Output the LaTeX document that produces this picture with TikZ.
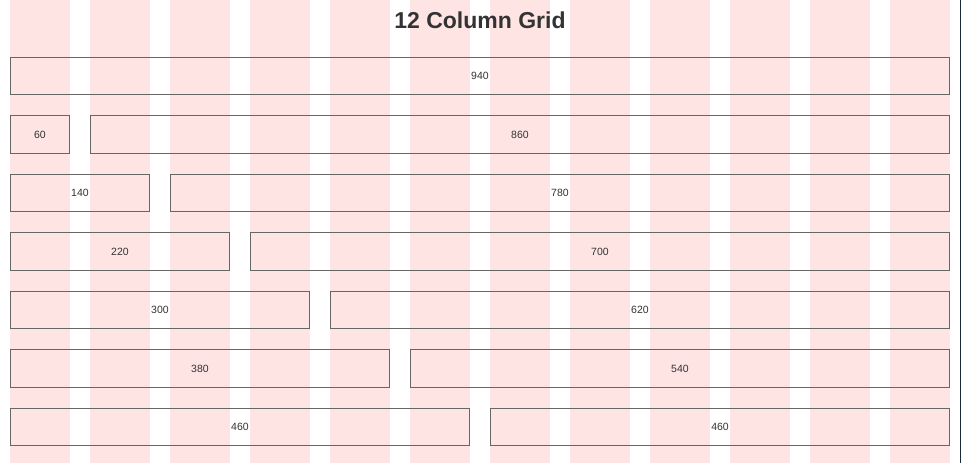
\documentclass[tikz,border=0pt]{standalone}
\usepackage{fontspec}
\setmainfont{Liberation Sans}
\definecolor{stripe}{HTML}{FFE4E4}
\definecolor{boxline}{HTML}{666666}
\definecolor{txt}{HTML}{333333}
\definecolor{edge}{HTML}{1B2A38}
\begin{document}
\begin{tikzpicture}[x=1pt,y=-1pt,
  colbox/.style={draw=boxline,line width=1pt,inner sep=0pt,outer sep=0pt,minimum height=37.5pt,text=txt,font=\fontsize{10.5}{12}\selectfont},
  titletext/.style={text=txt,font=\fontsize{23}{26}\selectfont\bfseries,inner sep=0pt}]
\useasboundingbox (0,0) rectangle (961,463);
\fill[white] (0,0) rectangle (961,463);
\foreach \c in {0,...,11}{
  \fill[stripe] ({10+80*\c},0) rectangle ({70+80*\c},463);
}
\fill[edge] (959.5,0) rectangle (961,463);
\node[titletext] (title) at (480,20) {12 Column Grid};
\node[colbox,minimum width=939pt] (r0) at (480,76) {940};
\foreach \k in {1,...,6}{
  \pgfmathtruncatemacro{\wl}{80*\k-20}
  \pgfmathtruncatemacro{\wr}{940-80*\k}
  \pgfmathsetmacro{\cl}{10+(80*\k-20)/2}
  \pgfmathsetmacro{\cr}{950-(940-80*\k)/2}
  \pgfmathsetmacro{\yy}{76+58.5*\k}
  \node[colbox,minimum width={\wl*1pt-1pt}] (l\k) at (\cl,\yy) {\wl};
  \node[colbox,minimum width={\wr*1pt-1pt}] (r\k) at (\cr,\yy) {\wr};
}
\end{tikzpicture}
\end{document}
